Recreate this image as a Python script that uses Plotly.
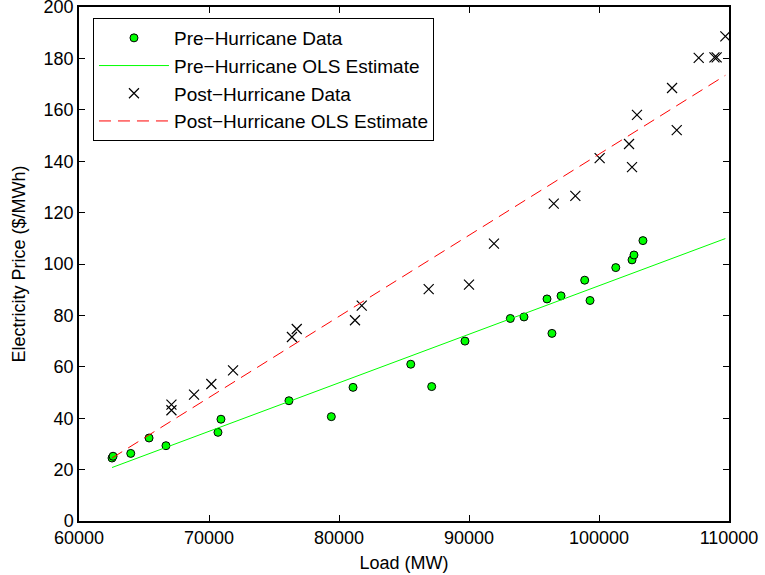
import plotly.graph_objects as go

# Pre-hurricane data (Load MW, Price $/MWh)
pre_load = [62540, 62620, 63980, 65390, 66690, 70690, 70920, 76150, 79410, 81080,
            85520, 87130, 89690, 93180, 94230, 96000, 96380, 97080, 98900, 99310,
            101290, 102540, 102690, 103380]
pre_price = [24.5, 25.2, 26.3, 32.3, 29.3, 34.5, 39.6, 46.8, 40.6, 52.0,
             61.0, 52.3, 70.0, 78.8, 79.4, 86.4, 73.0, 87.6, 93.7, 85.8,
             98.6, 101.6, 103.5, 109.1]

# Post-hurricane data
post_load = [67110, 67110, 68850, 70180, 71850, 76380, 76750, 81230, 81750, 86900,
             90000, 91920, 96520, 98180, 100050, 102310, 102540, 102920, 105620, 105980,
             107670, 108880, 109050, 109720]
post_price = [45.3, 43.1, 49.2, 53.3, 58.6, 71.6, 74.7, 78.1, 83.8, 90.2,
              92.0, 107.9, 123.5, 126.5, 141.2, 146.7, 137.7, 158.0, 168.5, 152.1,
              180.2, 180.4, 180.4, 188.6]

# OLS estimate lines (endpoints)
ols_load = [62540, 109720]
pre_ols = [20.8, 109.9]
post_ols = [24.5, 173.4]

x_ticks = [60000, 70000, 80000, 90000, 100000, 110000]
y_ticks = [0, 20, 40, 60, 80, 100, 120, 140, 160, 180, 200]

FONT = "Liberation Sans, Arial, Helvetica, sans-serif"

fig = go.Figure()
fig.add_trace(go.Scatter(
    x=pre_load, y=pre_price, mode="markers", name="Pre\u2212Hurricane Data",
    marker=dict(symbol="circle", size=8, color="#00ff00",
                line=dict(color="black", width=1))))
fig.add_trace(go.Scatter(
    x=ols_load, y=pre_ols, mode="lines", name="Pre\u2212Hurricane OLS Estimate",
    line=dict(color="#00ff00", width=1)))
fig.add_trace(go.Scatter(
    x=post_load, y=post_price, mode="markers", name="Post\u2212Hurricane Data",
    marker=dict(symbol="x-thin", size=10, color="black",
                line=dict(color="black", width=1.2))))
fig.add_trace(go.Scatter(
    x=ols_load, y=post_ols, mode="lines", name="Post\u2212Hurricane OLS Estimate",
    line=dict(color="#ff0000", width=1, dash="12px,7px")))

axis_common = dict(
    showline=True, linecolor="black", linewidth=1.5, mirror="ticks",
    ticks="inside", ticklen=6, tickwidth=1, tickcolor="black",
    showgrid=False, zeroline=False, ticklabeloverflow="allow", automargin=False,
    tickfont=dict(family=FONT, size=18, color="black"),
)

fig.update_xaxes(range=[60000, 110000], tickvals=x_ticks,
                 ticktext=[str(v) for v in x_ticks],
                 title=dict(text="Load (MW)", font=dict(family=FONT, size=18, color="black"),
                            standoff=9),
                 **axis_common)
fig.update_yaxes(range=[0, 200], tickvals=y_ticks,
                 ticktext=[str(v) for v in y_ticks],
                 title=dict(text="Electricity Price ($/MWh)",
                            font=dict(family=FONT, size=18, color="black"), standoff=13),
                 **axis_common)

fig.update_layout(
    width=765, height=575,
    margin=dict(l=79, r=36, t=7, b=54),
    plot_bgcolor="white", paper_bgcolor="white",
    font=dict(family=FONT, size=18, color="black"),
    legend=dict(x=0.0215, y=0.9786, xanchor="left", yanchor="top",
                bgcolor="white", bordercolor="black", borderwidth=1,
                font=dict(family=FONT, size=19, color="black"),
                itemwidth=70, tracegroupgap=0),
    showlegend=True,
)

fig.write_html("out.html")
